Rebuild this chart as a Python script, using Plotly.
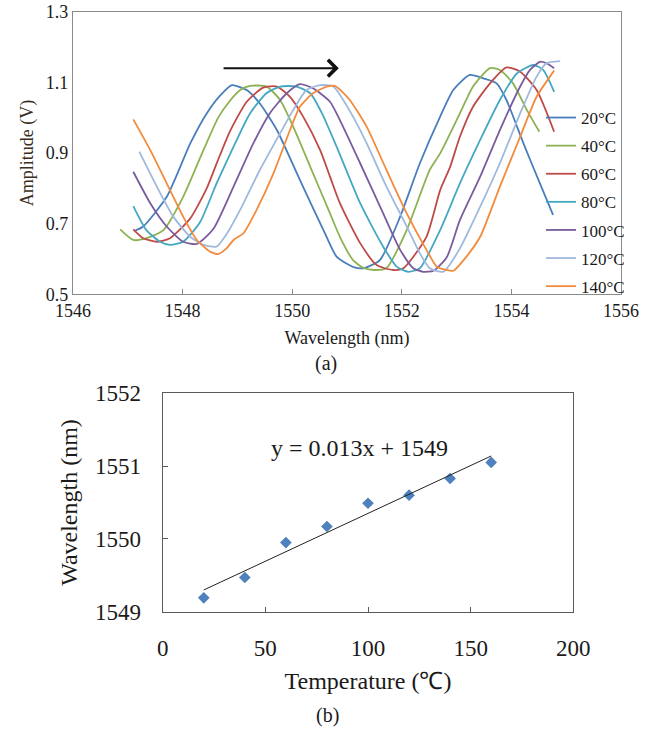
import numpy as np
import plotly.graph_objects as go

# ---------------- data: (a) transmission spectra ----------------
labels = ["20°C", "40°C", "60°C", "80°C", "100°C", "120°C", "140°C"]
colors = ["#4a7ebb", "#8db254", "#be4b48", "#45a8c2", "#7a5c9e", "#9fb9dc", "#f28b3c"]

wl_20 = [1547.13, 1547.28, 1547.71, 1548.14, 1548.44, 1548.70, 1548.90, 1549.17, 1549.41, 1549.72, 1550.14,
         1550.57, 1550.81, 1551.11, 1551.30, 1551.60, 1551.97, 1552.33, 1552.70, 1552.94, 1553.24, 1553.49,
         1553.73, 1553.91, 1554.22, 1554.52, 1554.76]
amp_20 = [0.680, 0.692, 0.776, 0.927, 1.012, 1.065, 1.092, 1.078, 1.040, 0.965, 0.824,
          0.682, 0.607, 0.578, 0.574, 0.597, 0.720, 0.871, 1.003, 1.078, 1.121, 1.111,
          1.097, 1.050, 0.927, 0.814, 0.725]

wl_40 = [1546.86, 1547.10, 1547.34, 1547.65, 1548.01, 1548.38, 1548.65, 1548.85, 1549.05, 1549.23, 1549.53,
         1549.78, 1550.02, 1550.33, 1550.69, 1550.87, 1551.11, 1551.30, 1551.51, 1551.72, 1552.09, 1552.51,
         1552.70, 1553.06, 1553.30, 1553.61, 1553.79, 1554.03, 1554.28, 1554.51]
amp_40 = [0.684, 0.654, 0.659, 0.682, 0.776, 0.908, 1.000, 1.045, 1.078, 1.090, 1.088,
          1.050, 0.974, 0.861, 0.729, 0.663, 0.597, 0.575, 0.569, 0.574, 0.682, 0.852,
          0.899, 1.012, 1.088, 1.140, 1.135, 1.097, 1.022, 0.960]

wl_60 = [1547.10, 1547.28, 1547.53, 1547.77, 1548.14, 1548.44, 1548.62, 1548.86, 1549.17, 1549.47, 1549.72,
         1549.96, 1550.20, 1550.51, 1550.69, 1550.87, 1551.24, 1551.54, 1551.84, 1552.03, 1552.45, 1552.70,
         1552.88, 1553.06, 1553.30, 1553.61, 1553.91, 1554.16, 1554.46, 1554.78]
amp_60 = [0.684, 0.659, 0.649, 0.659, 0.715, 0.800, 0.870, 0.960, 1.045, 1.085, 1.088,
          1.059, 1.003, 0.908, 0.833, 0.758, 0.645, 0.583, 0.569, 0.574, 0.663, 0.795,
          0.860, 0.946, 1.031, 1.097, 1.142, 1.130, 1.078, 0.960]

wl_80 = [1547.10, 1547.34, 1547.59, 1547.77, 1548.01, 1548.32, 1548.62, 1548.93, 1549.23, 1549.53, 1549.78,
         1550.08, 1550.33, 1550.55, 1550.81, 1551.24, 1551.66, 1551.91, 1552.12, 1552.33, 1552.70, 1553.06,
         1553.43, 1553.79, 1554.10, 1554.40, 1554.58, 1554.78]
amp_80 = [0.750, 0.682, 0.649, 0.640, 0.649, 0.705, 0.814, 0.918, 1.012, 1.069, 1.088,
          1.088, 1.069, 1.010, 0.918, 0.758, 0.635, 0.578, 0.564, 0.574, 0.682, 0.814,
          0.937, 1.050, 1.125, 1.149, 1.135, 1.073]

wl_100 = [1547.10, 1547.41, 1547.71, 1548.01, 1548.26, 1548.56, 1548.93, 1549.29, 1549.59, 1549.90, 1550.14,
          1550.38, 1550.69, 1550.87, 1551.24, 1551.66, 1551.97, 1552.21, 1552.39, 1552.58, 1552.82, 1553.06,
          1553.43, 1553.79, 1554.16, 1554.34, 1554.52, 1554.64, 1554.78]
amp_100 = [0.847, 0.758, 0.692, 0.649, 0.643, 0.685, 0.805, 0.927, 1.012, 1.069, 1.095,
           1.083, 1.045, 0.993, 0.871, 0.729, 0.626, 0.574, 0.564, 0.567, 0.605, 0.710,
           0.833, 0.965, 1.088, 1.135, 1.158, 1.154, 1.140]

wl_120 = [1547.21, 1547.53, 1547.83, 1548.14, 1548.38, 1548.62, 1548.80, 1549.05, 1549.41, 1549.78, 1550.02,
          1550.26, 1550.51, 1550.75, 1551.11, 1551.36, 1551.72, 1552.09, 1552.33, 1552.51, 1552.76, 1553.06,
          1553.43, 1553.79, 1554.16, 1554.46, 1554.64, 1554.89]
amp_120 = [0.904, 0.805, 0.720, 0.663, 0.640, 0.635, 0.670, 0.739, 0.852, 0.956, 1.022,
           1.078, 1.092, 1.088, 1.003, 0.927, 0.805, 0.692, 0.616, 0.574, 0.564, 0.630,
           0.748, 0.871, 1.012, 1.116, 1.154, 1.160]

wl_140 = [1547.10, 1547.41, 1547.71, 1548.01, 1548.26, 1548.50, 1548.65, 1548.80, 1548.93, 1549.11, 1549.35,
          1549.66, 1549.96, 1550.14, 1550.38, 1550.63, 1550.78, 1551.05, 1551.36, 1551.72, 1552.09, 1552.45,
          1552.64, 1552.82, 1552.94, 1553.18, 1553.43, 1553.79, 1554.16, 1554.46, 1554.78]
amp_140 = [0.995, 0.908, 0.814, 0.720, 0.654, 0.621, 0.614, 0.630, 0.654, 0.673, 0.739,
           0.843, 0.965, 1.031, 1.069, 1.088, 1.090, 1.050, 0.974, 0.852, 0.729, 0.626,
           0.578, 0.569, 0.567, 0.607, 0.663, 0.805, 0.946, 1.059, 1.133]

wavelengths = [wl_20, wl_40, wl_60, wl_80, wl_100, wl_120, wl_140]
amplitudes = [amp_20, amp_40, amp_60, amp_80, amp_100, amp_120, amp_140]

# ---------------- data: (b) wavelength vs temperature ----------------
temperature = [20, 40, 60, 80, 100, 120, 140, 160]
peak_wl = [1549.19, 1549.47, 1549.95, 1550.17, 1550.49, 1550.60, 1550.83, 1551.05]

SERIF = "Liberation Serif"

fig = go.Figure()

for i, (lab, col) in enumerate(zip(labels, colors)):
    fig.add_trace(go.Scatter(
        x=wavelengths[i], y=amplitudes[i], mode="lines", name=lab,
        line=dict(color=col, width=1.8, shape="spline", smoothing=0.6),
        legendgroup=lab, xaxis="x", yaxis="y"))

# linear fit (trend line)
slope, intercept = np.polyfit(temperature, peak_wl, 1)
fit_x = [temperature[0], temperature[-1]]
fit_y = [slope * t + intercept for t in fit_x]

fig.add_trace(go.Scatter(
    x=temperature, y=peak_wl, mode="markers", showlegend=False,
    marker=dict(symbol="diamond", size=9, color="#4f81bd"),
    xaxis="x2", yaxis="y2"))
fig.add_trace(go.Scatter(
    x=fit_x, y=fit_y, mode="lines", showlegend=False,
    line=dict(color="#222222", width=1),
    xaxis="x2", yaxis="y2"))

W, H = 656, 729
top_frame = "#8a8a8a"
bot_frame = "#5a5a5a"
TXT = "#1a1a1a"

fig.update_layout(
    width=W, height=H,
    autosize=False,
    margin=dict(l=0, r=0, t=0, b=0, pad=0),
    paper_bgcolor="white", plot_bgcolor="white",
    font=dict(family=SERIF, color=TXT),
    xaxis=dict(
        domain=[73 / W, 621 / W], range=[1546, 1556], dtick=2, tick0=1546,
        showgrid=False, zeroline=False, automargin=False,
        showline=True, mirror=True, linecolor=top_frame, linewidth=1.3,
        ticks="inside", ticklen=5, tickcolor=top_frame,
        tickfont=dict(size=18, family=SERIF, color=TXT),
        title=dict(text="Wavelength (nm)", font=dict(size=18, family=SERIF, color=TXT), standoff=11),
        anchor="y"),
    yaxis=dict(
        domain=[1 - 294.4 / H, 1 - 11.6 / H], range=[0.5, 1.3], dtick=0.2, tick0=0.5, tickformat=".1f",
        showgrid=False, zeroline=False, automargin=False,
        showline=True, mirror=True, linecolor=top_frame, linewidth=1.3,
        ticks="",
        tickfont=dict(size=18, family=SERIF, color=TXT),
        title=dict(text="Amplitude (V)", font=dict(size=18, family=SERIF, color="#3a2c20"), standoff=7),
        anchor="x"),
    xaxis2=dict(
        domain=[162.7 / W, 573.3 / W], range=[0, 200], dtick=50,
        showgrid=False, zeroline=False, automargin=False,
        showline=True, mirror=True, linecolor=bot_frame, linewidth=1.3,
        ticks="inside", ticklen=5, tickcolor=bot_frame,
        ticklabelstandoff=16,
        tickfont=dict(size=23, family=SERIF, color=TXT),
        title=dict(text="Temperature (℃)", font=dict(size=24, family=SERIF, color=TXT), standoff=11),
        anchor="y2"),
    yaxis2=dict(
        domain=[1 - 611.7 / H, 1 - 393.3 / H], range=[1549, 1552], dtick=1,
        showgrid=False, zeroline=False, automargin=False,
        showline=True, mirror=True, linecolor=bot_frame, linewidth=1.3,
        ticks="inside", ticklen=5, tickcolor=bot_frame,
        ticklabelstandoff=16,
        tickfont=dict(size=23, family=SERIF, color=TXT),
        title=dict(text="Wavelength (nm)", font=dict(size=24, family=SERIF, color=TXT), standoff=10),
        anchor="x2"),
    legend=dict(
        x=541 / W, y=1 - 100 / H, xanchor="left", yanchor="top",
        bgcolor="rgba(0,0,0,0)", borderwidth=0,
        font=dict(size=17, family=SERIF, color=TXT),
        tracegroupgap=3, itemwidth=30),
    annotations=[
        dict(x=1550.85, y=1.14, ax=1548.72, ay=1.14, xref="x", yref="y", axref="x", ayref="y",
             text="", showarrow=True, arrowhead=4, arrowsize=1.6, arrowwidth=2, arrowcolor="#111111"),
        dict(x=96, y=1551.25, xref="x2", yref="y2", text="y = 0.013x + 1549", showarrow=False,
             xanchor="center", yanchor="middle",
             font=dict(size=24, family=SERIF, color=TXT)),
        dict(x=326 / W, y=1 - 363 / H, xref="paper", yref="paper", text="(a)", showarrow=False,
             xanchor="center", yanchor="middle",
             font=dict(size=20, family=SERIF, color=TXT)),
        dict(x=327 / W, y=1 - 715 / H, xref="paper", yref="paper", text="(b)", showarrow=False,
             xanchor="center", yanchor="middle",
             font=dict(size=20, family=SERIF, color=TXT)),
    ],
)

fig.write_html("out.html", config={"displayModeBar": False},
               post_script="document.body.style.margin='0';")
